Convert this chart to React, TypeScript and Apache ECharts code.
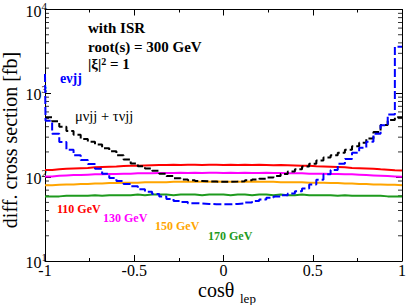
import React, { useEffect, useRef } from "react";
import * as echarts from "echarts";

// Histogram bins in cos(theta_lep): 50 bins of width 0.04 from -1 to 1
const BIN_WIDTH = 0.04;
const binStarts: number[] = Array.from({ length: 50 }, (_, i) => +(-1 + i * BIN_WIDTH).toFixed(2));

// e nu j j (blue dashed), with a very narrow spike at cos = -1
const evjjSpikeAtMinusOne = 1700;
const evjj = [
  470, 330, 262, 212, 182, 160, 144, 126, 110, 98,
  90, 83, 78, 72, 67, 63, 59, 55, 52, 50.5,
  49, 48.5, 48, 47.5, 47.5, 47.5, 48, 48.5, 50, 52,
  54, 57, 59, 61, 64, 68, 73, 82, 93, 108,
  122, 145, 165, 195, 225, 265, 330, 415, 560, 3600,
];
// mu nu j j + tau nu j j (black dashed)
const muvjj = [
  518, 464, 400, 355, 320, 285, 265, 245, 221, 204,
  183, 163, 146, 135, 127, 119, 110, 103, 97, 94,
  92, 90, 89, 88.5, 88, 88, 88.5, 89.5, 92, 94,
  96, 99, 103, 109, 117, 124, 134, 145, 158, 172,
  183, 196, 213, 234, 258, 290, 345, 420, 480, 520,
];
// signal curves
const h110 = [
  122, 124, 126, 127, 128, 129, 131, 132, 133, 134,
  136, 137, 137, 138, 139, 140, 140, 141, 140, 141,
  141, 140, 141, 141, 140, 141, 140, 141, 140, 141,
  140, 139, 140, 139, 138, 137, 137, 135, 134, 133,
  132, 131, 129, 128, 127, 126, 124, 123, 121, 120,
];
const h130 = [
  102, 104, 105, 106, 106, 107, 108, 108, 109, 109,
  110, 110, 111, 111, 111, 112, 112, 112, 113, 112,
  113, 112, 113, 113, 112, 113, 112, 113, 112, 112,
  113, 112, 112, 111, 111, 111, 110, 110, 110, 109,
  109, 108, 108, 107, 106, 105, 104, 103, 102, 101,
];
const h150 = [
  80, 81, 82, 82, 83, 83, 84, 84, 85, 85,
  86, 86, 86, 87, 87, 87, 87, 88, 88, 88,
  88, 88, 88, 89, 88, 88, 88, 88, 89, 88,
  88, 88, 87, 87, 87, 87, 86, 86, 86, 85,
  85, 84, 84, 83, 83, 82, 82, 81, 81, 80,
];
const h170 = [
  59, 59, 60, 60, 60, 60, 61, 60, 61, 61,
  61, 61, 62, 61, 62, 62, 62, 61, 62, 62,
  62, 61, 62, 62, 62, 61, 62, 62, 61, 62,
  62, 61, 62, 61, 61, 62, 61, 61, 61, 61,
  60, 61, 60, 60, 60, 60, 60, 59, 59, 59,
];

// log-axis minor tick values
const yMinorTicks = [
  20, 30, 40, 50, 60, 70, 80, 90,
  200, 300, 400, 500, 600, 700, 800, 900,
  2000, 3000, 4000, 5000, 6000, 7000, 8000, 9000,
];

const SERIF = '"Liberation Serif", "DejaVu Serif", serif';

function stepPoints(values: number[], spike?: number): number[][] {
  const pts = values.map((v, i) => [binStarts[i], v]);
  pts.push([1, values[values.length - 1]]);
  if (spike !== undefined) {
    pts[0] = [-0.997, values[0]];
    pts.unshift([-1, spike]);
  }
  return pts;
}

function solid(name: string, data: number[], color: string) {
  return {
    name,
    type: "line",
    step: "end",
    data: stepPoints(data),
    showSymbol: false,
    symbol: "none",
    lineStyle: { color, width: 2 },
    itemStyle: { color },
  };
}

export default function App() {
  const ref = useRef<HTMLDivElement>(null);
  useEffect(() => {
    if (!ref.current) return;
    const chart = echarts.init(ref.current, undefined, { renderer: "svg" });
    const axisCommonX = {
      type: "value",
      min: -1,
      max: 1,
      interval: 0.5,
      axisLine: { show: true, onZero: false, lineStyle: { color: "#000", width: 1 } },
      axisTick: { show: true, inside: true, length: 6, lineStyle: { color: "#000" } },
      minorTick: { show: true, splitNumber: 2, length: 3, lineStyle: { color: "#000" } },
      splitLine: { show: false },
    };
    const axisCommonY = {
      type: "log",
      logBase: 10,
      min: 10,
      max: 10000,
      axisLine: { show: true, onZero: false, lineStyle: { color: "#000", width: 1 } },
      axisTick: { show: true, inside: true, length: 6, lineStyle: { color: "#000" } },
      splitLine: { show: false },
    };
    chart.setOption({
      animation: false,
      backgroundColor: "#fff",
      grid: { left: 45, right: 6, top: 9, bottom: 44, containLabel: false },
      xAxis: [
        {
          ...axisCommonX,
          position: "bottom",
          axisLabel: { color: "#000", fontSize: 16, fontFamily: SERIF, margin: 1 },
        },
        { ...axisCommonX, position: "top", axisLabel: { show: false } },
      ],
      yAxis: [
        {
          ...axisCommonY,
          position: "left",
          axisLabel: {
            margin: -2,
            formatter: (v: number) => `{b|10}{s|${Math.round(Math.log10(v))}}`,
            rich: {
              b: { fontSize: 16, fontFamily: SERIF, color: "#000", padding: [3, 0, 0, 0] },
              s: { fontSize: 11, fontFamily: SERIF, color: "#000", verticalAlign: "top" },
            },
          },
        },
        { ...axisCommonY, position: "right", axisLabel: { show: false } },
      ],
      series: [
        solid("110 GeV", h110, "#ff0000"),
        solid("130 GeV", h130, "#ff00ff"),
        solid("150 GeV", h150, "#ffa500"),
        solid("170 GeV", h170, "#1e9a1e"),
        {
          name: "muvjj",
          type: "line",
          step: "end",
          data: stepPoints(muvjj),
          showSymbol: false,
          symbol: "none",
          lineStyle: { color: "#000", width: 2, type: [7, 3] },
        },
        {
          name: "evjj",
          type: "line",
          step: "end",
          data: stepPoints(evjj, evjjSpikeAtMinusOne),
          showSymbol: false,
          symbol: "none",
          lineStyle: { color: "#0000ff", width: 2, type: [8, 3] },
        },
        {
          type: "scatter",
          data: yMinorTicks.map((v) => [-1, v]),
          symbol: "rect",
          symbolSize: [4, 1],
          symbolOffset: [2, 0],
          itemStyle: { color: "#000" },
          silent: true,
          clip: false,
        },
        {
          type: "scatter",
          data: yMinorTicks.map((v) => [1, v]),
          symbol: "rect",
          symbolSize: [4, 1],
          symbolOffset: [-2, 0],
          itemStyle: { color: "#000" },
          silent: true,
          clip: false,
        },
      ],
      graphic: [
        { type: "text", x: 88, y: 28, style: { text: "with ISR", font: `bold 15px ${SERIF}`, fill: "#000", verticalAlign: "middle" } },
        { type: "text", x: 88, y: 47, style: { text: "root(s) = 300 GeV", font: `bold 15px ${SERIF}`, fill: "#000", verticalAlign: "middle" } },
        {
          type: "text",
          x: 88,
          y: 64,
          style: {
            text: "{a||ξ|}{s|2}{a| = 1}",
            verticalAlign: "middle",
            rich: {
              a: { fontSize: 15, fontWeight: "bold", fontFamily: SERIF, fill: "#000", color: "#000" },
              s: { fontSize: 10, fontWeight: "bold", fontFamily: SERIF, fill: "#000", color: "#000", verticalAlign: "top" },
            },
          },
        },
        { type: "text", x: 60, y: 78, style: { text: "eνjj", font: `bold 14px ${SERIF}`, fill: "#0000ff", verticalAlign: "middle" } },
        { type: "text", x: 75, y: 116, style: { text: "μνjj + τνjj", font: `14.5px ${SERIF}`, fill: "#000", verticalAlign: "middle" } },
        { type: "text", x: 57, y: 209, style: { text: "110 GeV", font: `bold 12px ${SERIF}`, fill: "#ff0000", verticalAlign: "middle" } },
        { type: "text", x: 103, y: 217.5, style: { text: "130 GeV", font: `bold 12px ${SERIF}`, fill: "#ff00ff", verticalAlign: "middle" } },
        { type: "text", x: 155, y: 226, style: { text: "150 GeV", font: `bold 12px ${SERIF}`, fill: "#ffa500", verticalAlign: "middle" } },
        { type: "text", x: 208, y: 236, style: { text: "170 GeV", font: `bold 12px ${SERIF}`, fill: "#1e9a1e", verticalAlign: "middle" } },
        { type: "text", x: 198, y: 290, style: { text: "cosθ", font: `20px ${SERIF}`, fill: "#000", verticalAlign: "middle" } },
        { type: "text", x: 240, y: 298, style: { text: "lep", font: `13px ${SERIF}`, fill: "#000", verticalAlign: "middle" } },
        {
          type: "text",
          x: 10,
          y: 140,
          rotation: Math.PI / 2,
          style: { text: "diff. cross section [fb]", font: `20px ${SERIF}`, fill: "#000", align: "center", verticalAlign: "middle" },
        },
      ],
    });
    return () => chart.dispose();
  }, []);
  return <div ref={ref} style={{ position: "fixed", left: 0, top: 0, width: 409, height: 305 }} />;
}
